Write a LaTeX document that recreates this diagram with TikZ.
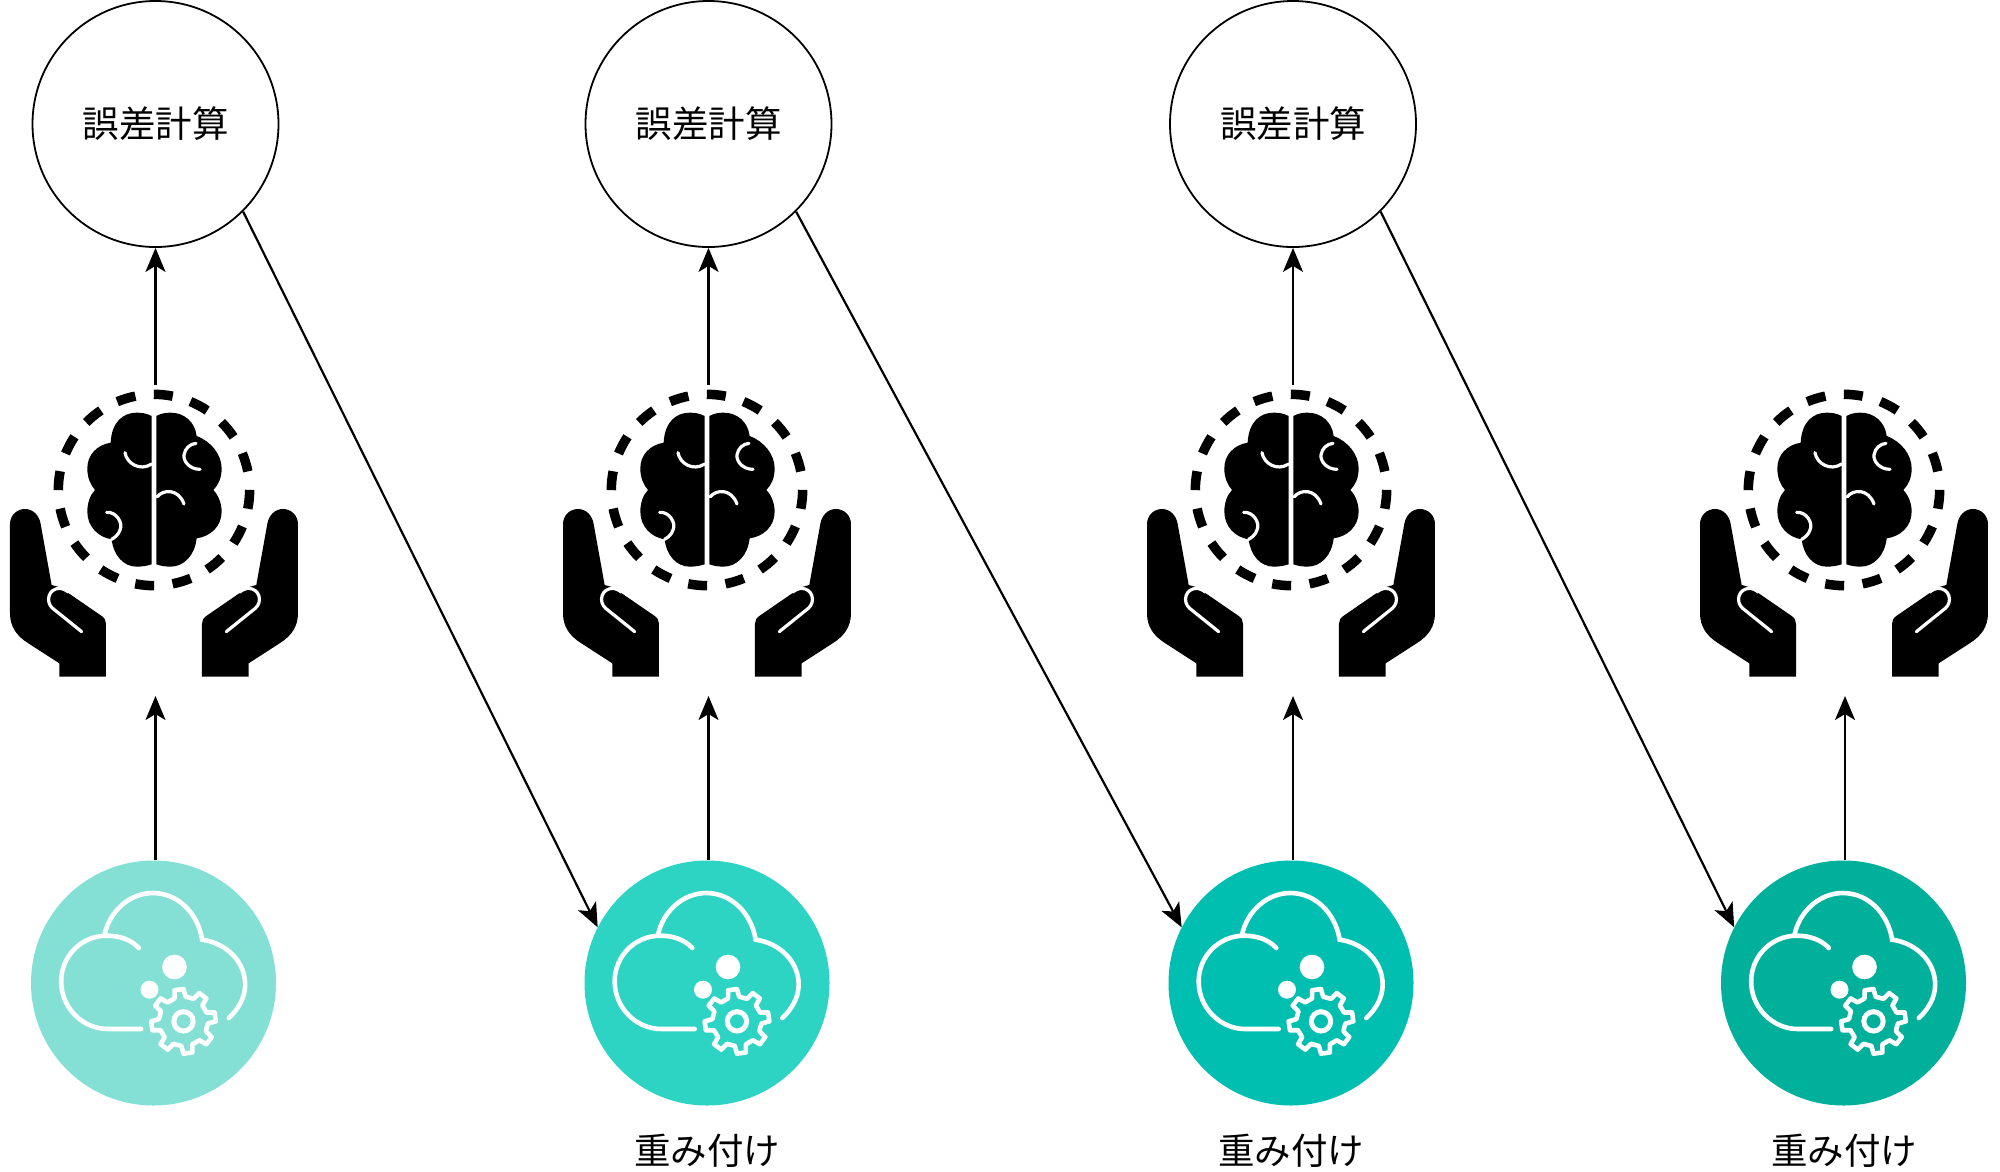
\documentclass[tikz,border=0pt]{standalone}
\usepackage{fontspec}
\usetikzlibrary{arrows.meta}
\newfontfamily\jpfont{Noto Sans CJK JP}
\definecolor{tealA}{HTML}{84E0D4}
\definecolor{tealB}{HTML}{2DD4C4}
\definecolor{tealC}{HTML}{00BFB0}
\definecolor{tealD}{HTML}{00B09B}
\tikzset{
  x=1pt,y=-1pt,
  errnode/.style={circle,draw=black,line width=1.8pt,minimum size=246pt,inner sep=0pt,font=\jpfont\fontsize{36.5}{40}\selectfont},
  cloudnode/.style={circle,minimum size=245pt,inner sep=0pt},
  lbl/.style={inner sep=0pt,font=\jpfont\fontsize{36.5}{40}\selectfont},
  flow/.style={draw=black,line width=2.2pt,-{Stealth[length=24pt,width=20pt,inset=6pt]}},
  whiteline/.style={draw=white,line width=4.6pt,line cap=round},
  crease/.style={draw=white,line width=3.2pt,line cap=round},
}
% icon: brain held by two hands; local coords are zoom pixels (1/3 px), origin at the icon's top-left
\newcommand{\handshape}{%
  \fill[black] (30,432) .. controls (30,407) and (50,387) .. (75,387) .. controls (100,387) and (118,407) .. (122,432)
    -- (155,615) -- (180,622) -- (305,708) .. controls (314,714) and (318,722) .. (318,732) -- (318,890) -- (178,890) -- (178,850)
    -- (85,790) .. controls (50,768) and (30,740) .. (30,700) -- cycle;
  \draw[crease] (245,755) -- (158,685) .. controls (135,665) and (145,625) .. (180,625) .. controls (190,625) and (195,630) .. (205,636);
}
\newcommand{\brainicon}[1]{%
\begin{scope}[shift={(#1,380)},x=0.3333pt,y=-0.3333pt]
  \handshape
  \begin{scope}[shift={(924,0)},xscale=-1]\handshape\end{scope}
  \foreach \i in {0,...,15}{
    \pgfmathsetmacro{\a}{84.4-22.5*\i}
    \draw[black,line width=9.5pt] ({462+287*cos(\a-5.7)},{330-287*sin(\a-5.7)}) arc[start angle={-(\a-5.7)},end angle={-(\a+5.7)},radius=287];
  }
  \fill[black] (455,108) .. controls (440,100) and (425,98) .. (410,98) .. controls (370,98) and (335,125) .. (332,188)
     .. controls (290,195) and (262,225) .. (262,265) .. controls (262,295) and (272,315) .. (285,330)
     .. controls (270,345) and (262,370) .. (262,395) .. controls (262,440) and (295,472) .. (335,478)
     .. controls (340,525) and (370,560) .. (410,560) .. controls (425,560) and (440,558) .. (455,553) -- cycle;
  \fill[black] (469,108) .. controls (484,100) and (497,98) .. (512,98) .. controls (552,98) and (585,125) .. (590,168)
     .. controls (635,185) and (665,225) .. (665,265) .. controls (665,295) and (655,315) .. (640,330)
     .. controls (655,345) and (665,370) .. (665,395) .. controls (665,440) and (630,470) .. (590,475)
     .. controls (585,525) and (552,560) .. (512,560) .. controls (497,560) and (484,558) .. (469,553) -- cycle;
  \draw[crease] (375,218) .. controls (380,250) and (420,275) .. (455,252);
  \draw[crease] (320,397) .. controls (350,395) and (370,430) .. (360,450) .. controls (355,465) and (345,472) .. (335,478);
  \draw[crease] (600,268) .. controls (570,268) and (550,245) .. (552,225) .. controls (555,205) and (570,192) .. (588,190);
  \draw[crease] (472,350) .. controls (490,328) and (535,325) .. (552,372);
\end{scope}}
% icon: cloud and gear on a teal disc; local coords are zoom pixels relative to the disc centre
\newcommand{\cloudicon}[1]{%
\begin{scope}[shift={(#1)},x=0.3333pt,y=-0.3333pt,shift={(-402,-400)}]
  \draw[whiteline] (358,295) .. controls (335,270) and (300,258) .. (262,258) .. controls (185,258) and (125,320) .. (125,395)
     .. controls (125,475) and (190,538) .. (265,538) -- (365,538);
  \draw[whiteline] (255,255) .. controls (270,185) and (330,130) .. (400,130) .. controls (475,130) and (535,190) .. (548,270)
     .. controls (620,280) and (677,335) .. (677,405) .. controls (677,445) and (655,480) .. (628,505);
  \fill[white] (465,352) circle[radius=37];
  \fill[white] (390,420) circle[radius=27];
  \draw[draw=white,line width=4.6pt,line join=round]
    ({492+72*cos(8-22.5)},{515-72*sin(8-22.5)})
    \foreach \k [evaluate=\k as \t using 8+45*\k] in {0,...,7}{
      -- ({492+74*cos(\t-13)},{515-74*sin(\t-13)})
      -- ({492+97*cos(\t-8)},{515-97*sin(\t-8)}) -- ({492+97*cos(\t+8)},{515-97*sin(\t+8)})
      -- ({492+74*cos(\t+13)},{515-74*sin(\t+13)})
    } -- cycle;
  \draw[white,line width=5pt] (492,515) circle[radius=29];
\end{scope}}
\begin{document}
\begin{tikzpicture}
  \useasboundingbox (0,0) rectangle (2000,1171);
  \node[errnode] (e1) at (155.5,124) {誤差計算};
  \node[errnode] (e2) at (708.5,124) {誤差計算};
  \node[errnode] (e3) at (1293,124) {誤差計算};
  \node[cloudnode,fill=tealA] (t1) at (153.5,983) {};
  \node[cloudnode,fill=tealB] (t2) at (707,983) {};
  \node[cloudnode,fill=tealC] (t3) at (1291,983) {};
  \node[cloudnode,fill=tealD] (t4) at (1843.5,983) {};
  \cloudicon{t1}\cloudicon{t2}\cloudicon{t3}\cloudicon{t4}
  \brainicon{0}\brainicon{553}\brainicon{1137}\brainicon{1690}
  \coordinate (b1top) at (155.5,385); \coordinate (b1bot) at (155.5,696);
  \coordinate (b2top) at (708.5,385); \coordinate (b2bot) at (708.5,696);
  \coordinate (b3top) at (1293,385); \coordinate (b3bot) at (1293,696);
  \coordinate (b4bot) at (1845,696);
  \node[lbl] (l2) at (707,1151) {重み付け};
  \node[lbl] (l3) at (1291,1151) {重み付け};
  \node[lbl] (l4) at (1844,1151) {重み付け};
  \foreach \n in {1,2,3}{
    \draw[flow] (b\n top) -- (e\n.south);
  }
  \draw[flow] (b1bot |- t1.north) -- (b1bot);
  \draw[flow] (b2bot |- t2.north) -- (b2bot);
  \draw[flow] (b3bot |- t3.north) -- (b3bot);
  \draw[flow] (b4bot |- t4.north) -- (b4bot);
  \draw[flow] (e1.-45) -- (t2.153);
  \draw[flow] (e2.-45) -- (t3.153);
  \draw[flow] (e3.-45) -- (t4.153);
\end{tikzpicture}
\end{document}
